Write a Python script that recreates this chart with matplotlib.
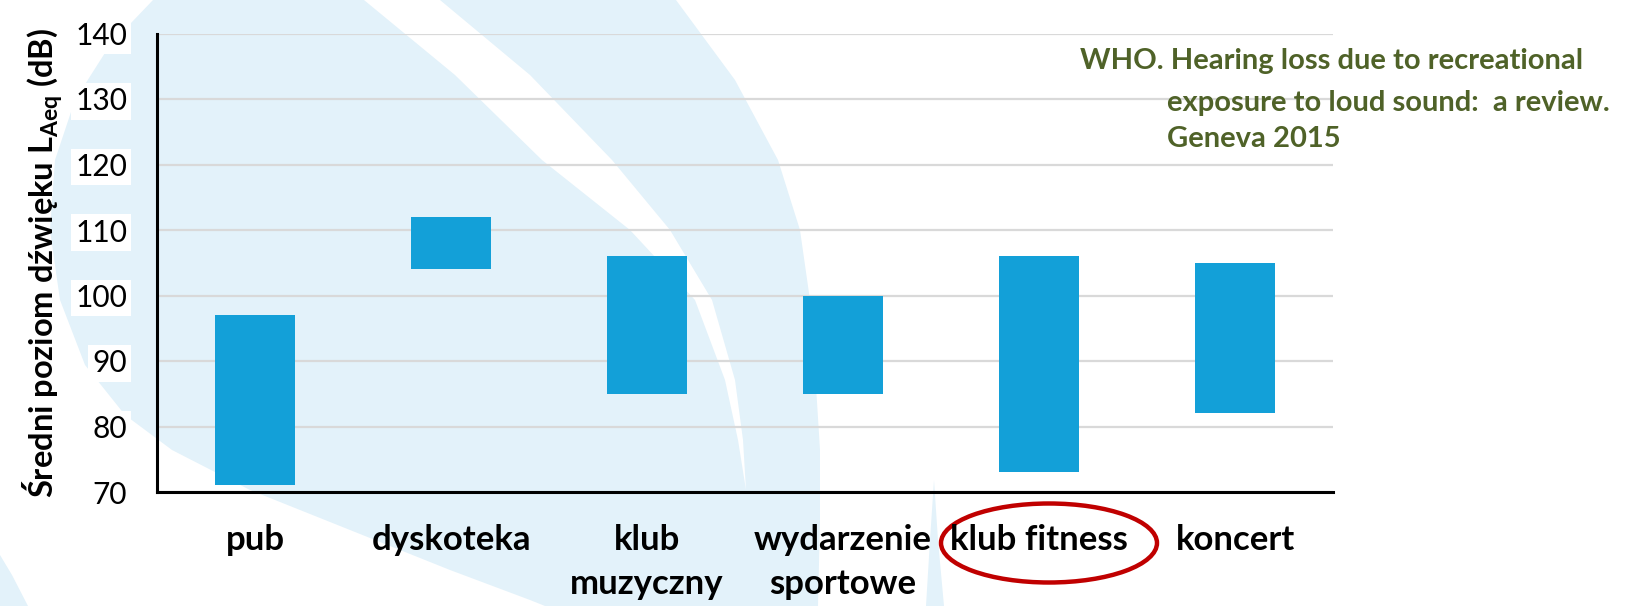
import matplotlib
matplotlib.use("Agg")
import matplotlib.pyplot as plt
from matplotlib.patches import Polygon, Ellipse

# data: min / max equivalent sound level per venue (dB)
categories = ["pub", "dyskoteka", "klub\nmuzyczny", "wydarzenie\nsportowe", "klub fitness", "koncert"]
level_low = [71, 104, 85, 85, 73, 82]
level_high = [97, 112, 106, 100, 106, 105]
y_ticks = [70, 80, 90, 100, 110, 120, 130, 140]

BAR = "#13A0D8"
WASH = "#E3F2FA"
GREEN = "#4F6228"
FAM = ["Lato", "DejaVu Sans"]

plt.rcParams["mathtext.fontset"] = "custom"
plt.rcParams["mathtext.bf"] = "Lato:bold"
plt.rcParams["mathtext.rm"] = "Lato"

W, H = 1642, 606
fig = plt.figure(figsize=(W / 100, H / 100), dpi=100, facecolor="white")

# watermark swoosh in the background (pixel coords, y down)
bg = fig.add_axes([0, 0, 1, 1], zorder=-1)
bg.set_xlim(0, W)
bg.set_ylim(H, 0)
bg.axis("off")
swoosh = [(153, 0), (110, 45), (75, 100), (55, 160), (50, 230), (60, 300), (85, 365),
          (125, 415), (172, 450), (250, 490), (350, 530), (450, 570), (530, 600), (545, 606),
          (818, 606), (820, 520), (820, 450), (815, 370), (810, 300), (800, 230), (778, 160),
          (735, 80), (676, 0), (440, 0), (530, 75), (612, 160), (670, 230), (712, 300),
          (735, 380), (743, 440), (746, 490), (738, 440), (725, 380), (695, 300),
          (630, 230), (542, 160), (455, 75), (364, 0)]
bg.add_patch(Polygon(swoosh, closed=True, facecolor=WASH, edgecolor="none"))
bg.add_patch(Polygon([(926, 606), (930, 540), (934, 480), (938, 540), (944, 606)],
                     closed=True, facecolor=WASH, edgecolor="none"))
bg.add_patch(Polygon([(0, 555), (12, 575), (28, 606), (0, 606)],
                     closed=True, facecolor=WASH, edgecolor="none"))

ax = fig.add_axes([157 / W, 1 - 492 / H, (1333 - 157) / W, (492 - 33.5) / H])
ax.patch.set_alpha(0)

x = range(len(categories))
heights = [h - l for l, h in zip(level_low, level_high)]
ax.bar(x, heights, bottom=level_low, width=0.41, color=BAR, zorder=3)

ax.set_xlim(-0.5, len(categories) - 0.5)
ax.set_ylim(70, 140)
ax.set_yticks(y_ticks)
ax.yaxis.grid(True, color="#D9D9D9", lw=1.6)
ax.set_axisbelow(True)
for s in ["top", "right"]:
    ax.spines[s].set_visible(False)
for s in ["left", "bottom"]:
    ax.spines[s].set_linewidth(2.2)
    ax.spines[s].set_zorder(4)

ax.tick_params(axis="y", length=0, pad=21.5, labelsize=21.5)
for lab in ax.get_yticklabels():
    lab.set_family(FAM)
    lab.set_bbox(dict(facecolor="white", edgecolor="none", pad=3))

ax.set_xticks(list(x))
ax.set_xticklabels(categories, family=FAM, fontweight="bold", fontsize=25,
                   linespacing=1.45)
ax.tick_params(axis="x", length=0, pad=23)

ax.set_ylabel(r"Średni poziom dźwięku $\mathbf{L_{Aeq}}$ (dB)", family=FAM,
              fontweight="bold", fontsize=23.5)
ax.yaxis.set_label_coords(-0.078, 0.5)

# reference note
fig.text(1080 / W, 1 - 61 / H, "WHO. Hearing loss due to recreational", color=GREEN,
         family=FAM, fontweight="bold", fontsize=21, va="center", ha="left")
fig.text(1167 / W, 1 - 103 / H, "exposure to loud sound:  a review.", color=GREEN,
         family=FAM, fontweight="bold", fontsize=21, va="center", ha="left")
fig.text(1167 / W, 1 - 139 / H, "Geneva 2015", color=GREEN,
         family=FAM, fontweight="bold", fontsize=21, va="center", ha="left")

# highlight ring around "klub fitness"
bg.add_patch(Ellipse((1049, 543), 216, 79, facecolor="none", edgecolor="#C00000", lw=3.2))

fig.savefig("out.png", dpi=100, facecolor="white")
